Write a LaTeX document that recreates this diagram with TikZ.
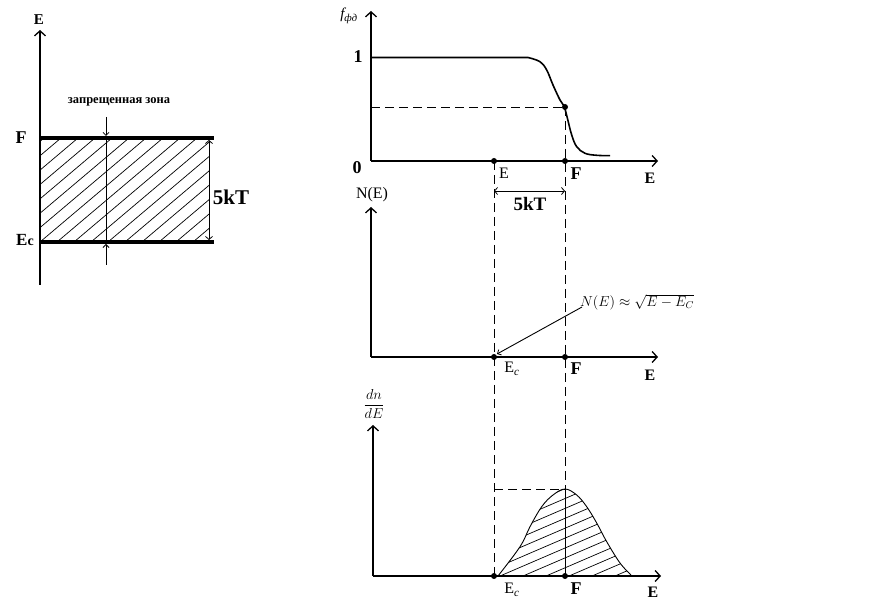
\documentclass[tikz,border=0pt]{standalone}
\usepackage{fontspec}
\setmainfont{Liberation Serif}
\usetikzlibrary{arrows.meta}
\begin{document}
\begin{tikzpicture}[x=1pt,y=-1pt,
  axisline/.style={line width=2pt,-{Straight Barb[length=5pt,width=11pt,line width=1.3pt]}},
  bandline/.style={line width=4pt},
  thinline/.style={line width=0.9pt},
  dashline/.style={line width=0.9pt,dash pattern=on 9pt off 5pt},
  tiparrow/.style={thinline,-{Straight Barb[length=3pt,width=6pt,line width=0.8pt]}},
  dbl/.style={thinline,{Straight Barb[length=3pt,width=7pt,line width=0.8pt]}-{Straight Barb[length=3pt,width=7pt,line width=0.8pt]}},
  dotnode/.style={circle,fill=black,inner sep=0pt,minimum size=6pt},
  boldlbl/.style={font=\fontsize{16}{18}\selectfont\bfseries,inner sep=0pt},
  lbl/.style={font=\fontsize{16}{18}\selectfont,inner sep=0pt},
  hatch/.style={line width=0.7pt}
]
\useasboundingbox (0,0) rectangle (889,601);

% ================= left band diagram =================
\coordinate (la0) at (40,285);
\coordinate (la1) at (40,30);
\begin{scope}
  \clip (40,138) rectangle (209,242);
  \foreach \i in {-8,...,12} {
    \draw[hatch] (40+\i*17,242) -- ++(123,-104);
  }
\end{scope}
\draw[axisline] (la0) -- (la1);
\node[boldlbl,font=\fontsize{15}{17}\selectfont\bfseries] (lE) at (39,20) {E};
\coordinate (fl0) at (40,138);
\coordinate (fl1) at (214,138);
\coordinate (ec0) at (40,242);
\coordinate (ec1) at (214,242);
\draw[bandline] (fl0) -- (fl1);
\draw[bandline] (ec0) -- (ec1);
\node[boldlbl,font=\fontsize{18}{20}\selectfont\bfseries] (lF) at (21,138) {F};
\node[boldlbl,font=\fontsize{17}{20}\selectfont\bfseries] (lEc) at (25,240) {E{\fontsize{14}{16}\selectfont c}};
\coordinate (gv0) at (106,117);
\coordinate (gv1) at (106,136);
\coordinate (gv2) at (106,244);
\coordinate (gv3) at (106,265);
\draw[tiparrow] (gv0) -- (gv1);
\draw[thinline] (gv1) -- (gv2);
\draw[tiparrow] (gv3) -- (gv2);
\node[font=\fontsize{12.5}{14}\selectfont\bfseries,inner sep=0pt] (zone) at (119,102) {запрещенная зона};
\coordinate (ka0) at (209,140);
\coordinate (ka1) at (209,240);
\draw[dbl] (ka0) -- (ka1);
\node[font=\fontsize{21}{24}\selectfont\bfseries,inner sep=0pt] (lkT) at (231,197) {5kT};

% ================= top graph =================
\coordinate (t0) at (371,161);
\coordinate (ty) at (371,11);
\coordinate (tx) at (658,161);
\draw[axisline] (t0) -- (ty);
\draw[axisline] (t0) -- (tx);
\node[inner sep=0pt,font=\fontsize{15}{17}\selectfont\itshape] (fl) at (349,16) {f\textsubscript{фд}};
\node[boldlbl,font=\fontsize{18}{20}\selectfont\bfseries] (one) at (358,57) {1};
\node[boldlbl,font=\fontsize{18}{20}\selectfont\bfseries] (zero) at (357,168) {0};
\draw[line width=1.6pt] (371,57.5) -- (528,57.5)
  plot[smooth,tension=0.6] coordinates {(528,57.5) (540,61.7) (546.7,70) (553,85) (560,100) (564,106) (567,116.7) (571.7,135) (576.7,146.7) (585,153.3) (596.7,155.3) (610,155.7)};
\coordinate (half) at (565,107);
\coordinate (halfL) at (371,107);
\draw[dashline] (halfL) -- (half);
\node[lbl] (tE1) at (504,173) {E};
\node[boldlbl,font=\fontsize{18}{20}\selectfont\bfseries] (tF) at (576,174) {F};
\node[boldlbl] (tE) at (650,178) {E};
\coordinate (ka2) at (494,191);
\coordinate (ka3) at (565,191);
\draw[dbl] (ka2) -- (ka3);
\node[font=\fontsize{19}{22}\selectfont\bfseries,inner sep=0pt] (mkT) at (530,204) {5kT};

% ================= middle graph =================
\coordinate (m0) at (371,357);
\coordinate (my) at (371,207);
\coordinate (mx) at (658,357);
\draw[axisline] (m0) -- (my);
\draw[axisline] (m0) -- (mx);
\node[lbl,font=\fontsize{16}{18}\selectfont] (NE) at (372,195) {N(E)};
\node[inner sep=0pt,font=\fontsize{14.5}{17}\selectfont] (form) at (637,302) {$N(E)\approx\sqrt{E-E_C}$};
\coordinate (fa) at (582,307);
\coordinate (fb) at (497,354);
\draw[tiparrow] (fa) -- (fb);
\node[lbl] (mEc) at (512,369) {E\textsubscript{\textit{c}}};
\node[boldlbl,font=\fontsize{18}{20}\selectfont\bfseries] (mF) at (576,369) {F};
\node[boldlbl] (mE) at (650,375) {E};

% ================= bottom graph =================
\coordinate (b0) at (373,576);
\coordinate (by) at (373,425);
\coordinate (bx) at (661,576);
\begin{scope}
  \clip plot[smooth,tension=0.6] coordinates {(498,576) (520,546.7) (530,526.7) (541.7,506.7) (553,495) (565,489) (576.7,495) (586.7,506.7) (596.7,523) (606.7,541.7) (620,563) (631,575)} -- cycle;
  \foreach \i in {-8,...,8} {
    \draw[hatch] (500+\i*23,576) -- ++(230,-99);
  }
\end{scope}
\draw[thinline] plot[smooth,tension=0.6] coordinates {(498,576) (520,546.7) (530,526.7) (541.7,506.7) (553,495) (565,489) (576.7,495) (586.7,506.7) (596.7,523) (606.7,541.7) (620,563) (631,575)};
\draw[axisline] (b0) -- (by);
\draw[axisline] (b0) -- (bx);
\node[inner sep=0pt,font=\fontsize{14.5}{17}\selectfont] (dndE) at (374,404) {$\displaystyle\frac{dn}{dE}$};
\coordinate (peak) at (565,489);
\coordinate (peakL) at (494,489);
\draw[dashline] (peakL) -- (peak);
\draw[thinline] (peak) -- (565,576);
\node[lbl] (bEc) at (512,590) {E\textsubscript{\textit{c}}};
\node[boldlbl,font=\fontsize{18}{20}\selectfont\bfseries] (bF) at (576,589) {F};
\node[boldlbl] (bE) at (653,592) {E};

% ================= dashed verticals and dots =================
\coordinate (dE0) at (494,161);
\coordinate (dE1) at (494,357);
\coordinate (dE2) at (494,576);
\coordinate (dF0) at (565,161);
\coordinate (dF1) at (565,357);
\coordinate (dF2) at (565,576);
\draw[dashline] (dE0) -- (dE2);
\draw[dashline] (half) -- (peak);
\foreach \p in {half,dE0,dE1,dE2,dF0,dF1,dF2} {
  \node[dotnode] at (\p) {};
}
\end{tikzpicture}
\end{document}
